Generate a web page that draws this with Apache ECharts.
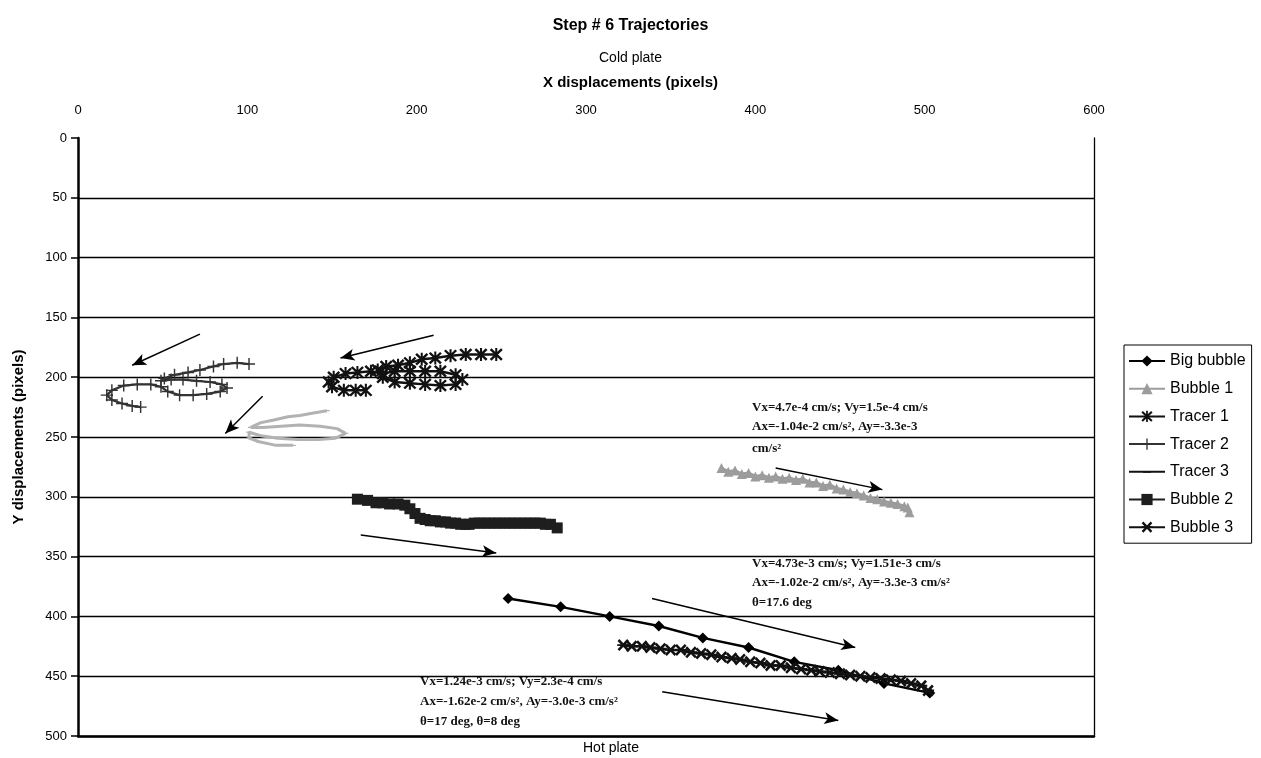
<!DOCTYPE html>
<html>
<head>
<meta charset="utf-8">
<script src="https://cdn.jsdelivr.net/npm/echarts@6/dist/echarts.min.js"></script>
<style>
  html, body { margin: 0; padding: 0; background: #fff; }
  #chart { width: 1261px; height: 758px; }
</style>
</head>
<body>
<div id="chart"></div>
<script>
// Axis ticks (pixels)
const xTickValues = [0, 100, 200, 300, 400, 500, 600];
const yTickValues = [0, 50, 100, 150, 200, 250, 300, 350, 400, 450, 500];

// Trajectories: X and Y displacements in pixels
const bigBubbleX = [254, 285, 314, 343, 369, 396, 423, 449, 476, 503];
const bigBubbleY = [385, 392, 400, 408, 418, 426, 438, 445, 456, 464];

const bubble1X = [380, 384, 388, 392, 396, 400, 404, 408, 412, 416, 420, 424, 428, 432, 436, 440, 444, 448, 452, 456, 460, 464, 468, 472, 476, 480, 484, 488, 490, 491];
const bubble1Y = [276, 279, 278, 281, 280, 283, 282, 284, 283, 285, 284, 286, 285, 288, 288, 291, 290, 293, 294, 296, 297, 299, 301, 302, 304, 305, 306, 308, 309, 313];

const tracer1X = [247, 238, 229, 220, 211, 203, 196, 189, 182, 177, 180, 187, 196, 205, 214, 223, 227, 223, 214, 205, 196, 187, 180, 173, 165, 158, 151, 148, 150, 157, 164, 170];
const tracer1Y = [181, 181, 181, 182, 184, 185, 188, 190, 191, 194, 200, 204, 205, 206, 207, 206, 202, 198, 195, 195, 195, 195, 197, 195, 196, 197, 200, 204, 208, 211, 211, 211];

const tracer2X = [101, 94, 86, 80, 72, 65, 57, 51, 49, 55, 62, 70, 78, 85, 88, 84, 76, 68, 60, 53, 49, 43, 35, 27, 20, 17, 20, 26, 32, 37];
const tracer2Y = [189, 188, 189, 191, 194, 196, 198, 201, 203, 202, 202, 203, 204, 206, 209, 212, 214, 215, 215, 212, 208, 206, 206, 207, 211, 215, 219, 222, 224, 225];

const tracer3X = [147, 139, 131, 124, 115, 108, 102, 109, 120, 131, 143, 153, 158, 152, 142, 130, 118, 108, 101, 101, 107, 117, 127];
const tracer3Y = [228, 230, 232, 233, 236, 238, 242, 242, 241, 240, 241, 243, 247, 251, 252, 252, 251, 249, 246, 251, 254, 257, 257];

const bubble2X = [165, 171, 176, 180, 184, 189, 193, 196, 199, 202, 205, 208, 211, 214, 217, 220, 223, 226, 229, 231, 234, 237, 240, 243, 246, 249, 252, 255, 258, 261, 264, 267, 270, 273, 276, 279, 283];
const bubble2Y = [302, 303, 305, 305, 306, 306, 307, 310, 314, 318, 319, 320, 320, 321, 321, 322, 322, 323, 323, 323, 322, 322, 322, 322, 322, 322, 322, 322, 322, 322, 322, 322, 322, 322, 323, 323, 326];

const bubble3X = [322, 327, 333, 338, 344, 350, 356, 362, 368, 374, 380, 386, 391, 397, 403, 409, 415, 421, 427, 433, 438, 444, 450, 456, 462, 468, 474, 480, 486, 492, 498, 502];
const bubble3Y = [424, 425, 425, 426, 427, 428, 428, 430, 431, 432, 434, 435, 436, 438, 439, 441, 441, 443, 444, 445, 446, 447, 448, 449, 450, 451, 452, 453, 454, 456, 458, 462];

// Direction arrows: [x0, y0, x1, y1] in axis units, head at the second point
const arrowLines = [
  [72, 164, 32, 190],
  [109, 216, 87, 247],
  [210, 165, 155, 184],
  [167, 332, 247, 347],
  [412, 276, 475, 294],
  [339, 385, 459, 426],
  [345, 463, 449, 487]
];

const seriesNames = ['Big bubble', 'Bubble 1', 'Tracer 1', 'Tracer 2', 'Tracer 3', 'Bubble 2', 'Bubble 3'];

function pairs(xs, ys) { return xs.map((x, i) => [x, ys[i]]); }

// Marker shapes (20x20 boxes); tiny corner specks keep the full box as the path bounds
const SYM_ASTERISK = 'path://M8.5,0L11.5,0L11.5,20L8.5,20Z M0.5,3L3,0.5L19.5,17L17,19.5Z M17,0.5L19.5,3L3,19.5L0.5,17Z';
const SYM_XBAR = 'path://M0,8.5L20,8.5L20,11.5L0,11.5Z M0.5,3.5L3.5,0.5L19.5,16.5L16.5,19.5Z M16.5,0.5L19.5,3.5L3.5,19.5L0.5,16.5Z';
const SYM_PLUS = 'path://M8.8,0L11.2,0L11.2,8.8L20,8.8L20,11.2L11.2,11.2L11.2,20L8.8,20L8.8,11.2L0,11.2L0,8.8L8.8,8.8Z';
const SYM_DASH = 'path://M0,0L0.05,0L0,0.05Z M3,8.5L17,8.5L17,11.5L3,11.5Z M20,20L19.95,20L20,19.95Z';

function lineSeries(name, data, color, symbol, size, width) {
  return {
    name: name, type: 'line', data: data,
    symbol: symbol, symbolSize: size, showAllSymbol: true,
    itemStyle: { color: color },
    lineStyle: { color: color, width: width },
    emphasis: { disabled: true }
  };
}

const chart = echarts.init(document.getElementById('chart'), null, { renderer: 'canvas' });
const axisFont = { fontFamily: 'Liberation Sans', fontSize: 13, color: '#000' };
const noteFont = 'bold 13px "Liberation Serif"';

const option = {
  animation: false,
  backgroundColor: '#fff',
  title: [
    { text: 'Step # 6 Trajectories', left: 'center', top: 18, padding: 0,
      textStyle: { fontFamily: 'Liberation Sans', fontSize: 16, fontWeight: 'bold', color: '#000' } },
    { text: 'Cold plate', left: 'center', top: 51, padding: 0,
      textStyle: { fontFamily: 'Liberation Sans', fontSize: 14, fontWeight: 'normal', color: '#000' } },
    { text: 'X displacements (pixels)', left: 'center', top: 75, padding: 0,
      textStyle: { fontFamily: 'Liberation Sans', fontSize: 15, fontWeight: 'bold', color: '#000' } }
  ],
  legend: {
    orient: 'vertical', left: 1124, top: 345,
    padding: [8, 6, 8, 4], itemWidth: 36, itemHeight: 14, itemGap: 11.7,
    borderColor: '#000', borderWidth: 1, backgroundColor: '#fff',
    textStyle: { fontFamily: 'Liberation Sans', fontSize: 16, color: '#000' },
    data: seriesNames.map(n => n === 'Tracer 3'
      ? { name: n, itemStyle: { color: '#111' }, lineStyle: { color: '#111' } }
      : { name: n })
  },
  grid: { left: 78, right: 167, top: 138, bottom: 22, outerBoundsMode: 'none', containLabel: false },
  xAxis: [
    {
      type: 'value', position: 'top',
      min: xTickValues[0], max: xTickValues[xTickValues.length - 1], interval: 100,
      axisLine: { show: false }, axisTick: { show: false },
      axisLabel: Object.assign({ margin: 21 }, axisFont),
      splitLine: { show: false }
    },
    {
      type: 'value', position: 'bottom',
      min: xTickValues[0], max: xTickValues[xTickValues.length - 1], interval: 100,
      axisLine: { show: true, onZero: false, lineStyle: { color: '#000', width: 2.5 } },
      axisTick: { show: false }, axisLabel: { show: false }, splitLine: { show: false }
    }
  ],
  yAxis: [
    {
      type: 'value', inverse: true,
      min: yTickValues[0], max: yTickValues[yTickValues.length - 1], interval: 50,
      name: 'Y displacements (pixels)', nameLocation: 'middle', nameGap: 52, nameRotate: 90,
      nameTextStyle: { fontFamily: 'Liberation Sans', fontSize: 15, fontWeight: 'bold', color: '#000' },
      axisLine: { show: true, onZero: false, lineStyle: { color: '#000', width: 2.5 } },
      axisTick: { show: true, length: 7, lineStyle: { color: '#000', width: 1.5 } },
      axisLabel: Object.assign({ margin: 11 }, axisFont),
      splitLine: { show: true, showMinLine: false, lineStyle: { color: '#000', width: 1.3 } }
    },
    {
      type: 'value', inverse: true, position: 'right',
      min: yTickValues[0], max: yTickValues[yTickValues.length - 1], interval: 50,
      axisLine: { show: true, onZero: false, lineStyle: { color: '#000', width: 1.3 } },
      axisTick: { show: false }, axisLabel: { show: false }, splitLine: { show: false }
    }
  ],
  series: [
    lineSeries('Big bubble', pairs(bigBubbleX, bigBubbleY), '#000', 'diamond', 11, 2.4),
    lineSeries('Bubble 1', pairs(bubble1X, bubble1Y), '#9c9c9c', 'triangle', 10, 3),
    lineSeries('Tracer 1', pairs(tracer1X, tracer1Y), '#111', SYM_ASTERISK, 13, 2.5),
    lineSeries('Tracer 2', pairs(tracer2X, tracer2Y), '#333', SYM_PLUS, 12, 2.2),
    lineSeries('Tracer 3', pairs(tracer3X, tracer3Y), '#b2b2b2', SYM_DASH, 8, 3),
    lineSeries('Bubble 2', pairs(bubble2X, bubble2Y), '#1e1e1e', 'rect', 11, 3),
    lineSeries('Bubble 3', pairs(bubble3X, bubble3Y), '#111', SYM_XBAR, 12, 2.5),
    {
      name: 'arrows', type: 'line', data: [], silent: true,
      markLine: {
        silent: true, symbol: ['none', 'arrow'], symbolSize: [9, 14],
        label: { show: false },
        lineStyle: { color: '#000', width: 1.5, type: 'solid' },
        emphasis: { disabled: true },
        data: arrowLines.map(a => [{ coord: [a[0], a[1]] }, { coord: [a[2], a[3]] }])
      }
    }
  ],
  graphic: [
    { type: 'text', x: 752, y: 408, style: { text: 'Vx=4.7e-4 cm/s; Vy=1.5e-4 cm/s', font: noteFont, fill: '#111', verticalAlign: 'middle' } },
    { type: 'text', x: 752, y: 427, style: { text: 'Ax=-1.04e-2 cm/s², Ay=-3.3e-3', font: noteFont, fill: '#111', verticalAlign: 'middle' } },
    { type: 'text', x: 752, y: 449, style: { text: 'cm/s²', font: noteFont, fill: '#111', verticalAlign: 'middle' } },

    { type: 'text', x: 752, y: 564, style: { text: 'Vx=4.73e-3 cm/s; Vy=1.51e-3 cm/s', font: noteFont, fill: '#111', verticalAlign: 'middle' } },
    { type: 'text', x: 752, y: 583, style: { text: 'Ax=-1.02e-2 cm/s², Ay=-3.3e-3 cm/s²', font: noteFont, fill: '#111', verticalAlign: 'middle' } },
    { type: 'text', x: 752, y: 603, style: { text: 'θ=17.6 deg', font: noteFont, fill: '#111', verticalAlign: 'middle' } },

    { type: 'text', x: 420, y: 682, style: { text: 'Vx=1.24e-3 cm/s; Vy=2.3e-4 cm/s', font: noteFont, fill: '#111', verticalAlign: 'middle' } },
    { type: 'text', x: 420, y: 702, style: { text: 'Ax=-1.62e-2 cm/s², Ay=-3.0e-3 cm/s²', font: noteFont, fill: '#111', verticalAlign: 'middle' } },
    { type: 'text', x: 420, y: 722, style: { text: 'θ=17 deg, θ=8 deg', font: noteFont, fill: '#111', verticalAlign: 'middle' } },

    { type: 'text', x: 611, y: 748, style: { text: 'Hot plate', font: '14px "Liberation Sans"', fill: '#000', align: 'center', verticalAlign: 'middle' } }
  ]
};

chart.setOption(option);
</script>
</body>
</html>
